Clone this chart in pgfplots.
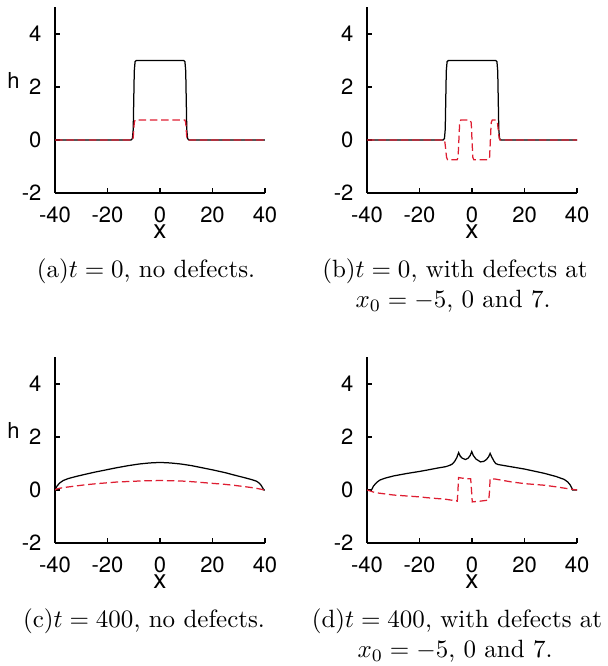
\documentclass[border=0pt]{standalone}
\usepackage{fontspec}
\newfontfamily\heros{TeX Gyre Heros}
\usepackage{pgfplots}
\pgfplotsset{compat=1.18}
\definecolor{redc}{RGB}{222,30,50}

\pgfplotsset{panel/.style={
    scale only axis, width=84pt, height=74.2pt, anchor=south west,
    xmin=-40, xmax=40, ymin=-2, ymax=5,
    axis x line=bottom, axis y line=left,
    axis line style={-, line width=0.75pt},
    xtick={-40,-20,0,20,40}, xticklabels={-40,-20,0,20,40},
    ytick={-2,0,2,4}, yticklabels={-2,0,2,4},
    tick align=inside, major tick length=1.8pt,
    tick style={line width=0.75pt, black},
    ticklabel style={font=\heros\fontsize{8.8}{10}\selectfont},
    xticklabel style={inner sep=0.5pt, yshift=-4.7pt},
    yticklabel style={xshift=-1.9pt},
    xlabel={x},
    every axis x label/.style={at={(axis description cs:0.5,0)}, anchor=center,
        inner sep=0pt, yshift=-15.6pt, font=\heros\fontsize{10.5}{12}\selectfont},
    every axis y label/.style={at={(axis description cs:0,0)}, anchor=center,
        xshift=-16.6pt, yshift=45.2pt, font=\heros\fontsize{8.8}{10}\selectfont},
},
hcurve/.style={black, line width=0.5pt, mark=none},
pcurve/.style={redc, line width=0.5pt, dash pattern=on 3pt off 1.5pt, mark=none}}

\begin{document}
\begin{tikzpicture}
\useasboundingbox (0,0) rectangle (242.8pt,266.4pt);

% (a) t = 0, no defects
\begin{axis}[panel, at={(22pt,189.2pt)}, ylabel={h}]
\addplot[hcurve] coordinates {(-40,0) (-11,0) (-10.5,0.05) (-10.2,0.4) (-10,1.5) (-9.8,2.6) (-9.5,2.95) (-9,3) (9,3) (9.5,2.95) (9.8,2.6) (10,1.5) (10.2,0.4) (10.5,0.05) (11,0) (40,0)};
\addplot[pcurve] coordinates {(-40,0) (-10.5,0) (-10.2,0.1) (-10,0.375) (-9.8,0.65) (-9.5,0.75) (9.5,0.75) (9.8,0.65) (10,0.375) (10.2,0.1) (10.5,0) (40,0)};
\end{axis}

% (b) t = 0, defects
\begin{axis}[panel, at={(146.8pt,189.2pt)}]
\addplot[hcurve] coordinates {(-40,0) (-11,0) (-10.5,0.05) (-10.2,0.4) (-10,1.5) (-9.8,2.6) (-9.5,2.95) (-9,3) (9,3) (9.5,2.95) (9.8,2.6) (10,1.5) (10.2,0.4) (10.5,0.05) (11,0) (40,0)};
\addplot[pcurve] coordinates {(-40,0) (-10.6,0) (-10.3,-0.1) (-10,-0.375) (-9.7,-0.65) (-9.3,-0.75)
 (-5.7,-0.75) (-5.3,-0.65) (-5,0) (-4.7,0.65) (-4.3,0.75)
 (-0.7,0.75) (-0.3,0.65) (0,0) (0.3,-0.65) (0.7,-0.75)
 (6.3,-0.75) (6.7,-0.65) (7,0) (7.3,0.65) (7.7,0.75)
 (9.3,0.75) (9.7,0.65) (10,0.375) (10.3,0.1) (10.6,0) (40,0)};
\end{axis}

% (c) t = 400, no defects
\begin{axis}[panel, at={(22pt,49.2pt)}, ylabel={h}]
\addplot[hcurve] coordinates {(-40,0) (-39.6,0.08) (-39.2,0.15) (-38.7,0.21) (-38,0.28) (-36.8,0.36) (-35,0.43) (-32,0.51) (-29,0.58) (-25,0.67) (-20,0.77) (-16.5,0.84) (-12,0.92) (-8,0.98) (-4,1.02) (0,1.04) (4,1.02) (8,0.98) (12,0.92) (15,0.86) (20,0.76) (25,0.65) (28,0.57) (32,0.47) (35,0.39) (36.8,0.33) (37.8,0.26) (38.5,0.18) (39,0.1) (39.4,0.03) (39.6,0) (40,0)};
\addplot[pcurve] coordinates {(-40,0) (-39.5,0.03) (-38.5,0.06) (-36.8,0.09) (-33,0.14) (-29,0.19) (-24,0.24) (-16.5,0.30) (-10,0.33) (-5,0.35) (0,0.355) (5,0.35) (10,0.33) (15.2,0.29) (20,0.25) (24,0.22) (27.9,0.18) (32,0.13) (35,0.09) (36.8,0.06) (38.5,0.03) (39.5,0) (40,-0.01)};
\end{axis}

% (d) t = 400, defects
\begin{axis}[panel, at={(146.8pt,49.2pt)}]
\addplot[hcurve] coordinates {(-40,0) (-38.4,0) (-38,0.05) (-37.6,0.14) (-36.9,0.22) (-36,0.31) (-35,0.38) (-33,0.45) (-29.9,0.53) (-25,0.62) (-20,0.70) (-17.2,0.75) (-13,0.83) (-10,0.88) (-8.5,0.93) (-7.5,0.98) (-6.6,1.08) (-5.8,1.22) (-5.1,1.41) (-4.5,1.28) (-3.7,1.2) (-2.5,1.15) (-1.5,1.2) (-0.7,1.3) (-0.1,1.45) (0.5,1.3) (1.5,1.17) (3.2,1.06) (4.5,1.08) (5.5,1.15) (6.3,1.25) (6.9,1.38) (7.5,1.25) (8.3,1.1) (9,1.0) (10,0.96) (14.7,0.88) (20,0.79) (27.5,0.63) (32,0.51) (35.1,0.40) (36.5,0.3) (37.4,0.19) (38,0.08) (38.3,0) (40,0)};
\addplot[pcurve] coordinates {(-40,0) (-39,-0.03) (-36.9,-0.1) (-29.9,-0.19) (-20,-0.26) (-17.2,-0.29) (-10,-0.35) (-6,-0.41) (-5.6,-0.42) (-5.3,0.1) (-5.1,0.47) (-4,0.45) (-2.1,0.43) (-0.5,0.42) (-0.2,0) (0.1,-0.45) (3.2,-0.42) (6.4,-0.38) (6.7,0) (6.9,0.43) (9,0.41) (14.7,0.31) (20,0.24) (27.5,0.18) (32,0.12) (37.7,0.03) (40,0)};
\end{axis}

% sub-captions
\node[anchor=base] at (58.4pt,155.2pt) {(a)$t = 0$, no defects.};
\node[anchor=base] at (182pt,155.2pt) {(b)$t = 0$, with defects at};
\node[anchor=base] at (181.2pt,143.2pt) {$x_0 = -5$, 0 and 7.};
\node[anchor=base] at (57.6pt,15.2pt) {(c)$t = 400$, no defects.};
\node[anchor=base] at (182.8pt,15.2pt) {(d)$t = 400$, with defects at};
\node[anchor=base] at (182pt,3.2pt) {$x_0 = -5$, 0 and 7.};
\end{tikzpicture}
\end{document}
